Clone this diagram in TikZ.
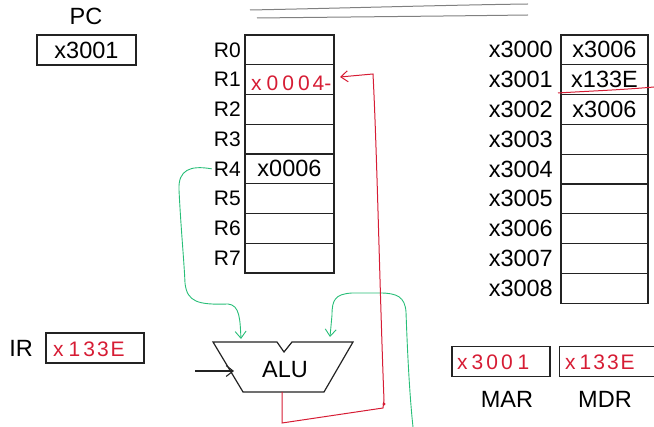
\documentclass[tikz,border=0pt]{standalone}
\usepackage{fontspec}
\setmainfont{Liberation Sans}
\usetikzlibrary{arrows.meta}
\definecolor{inkred}{RGB}{214,28,52}
\definecolor{inkgreen}{RGB}{40,190,120}
\definecolor{boxline}{RGB}{35,35,35}
\begin{document}
\begin{tikzpicture}[x=1pt,y=-1pt,
  big/.style={font=\fontsize{23.5}{25}\selectfont, inner sep=0pt},
  small/.style={font=\fontsize{21}{23}\selectfont, inner sep=0pt},
  hand/.style={font=\fontsize{21}{23}\selectfont, text=inkred, inner sep=0pt},
  regcell/.style={draw=boxline, line width=1.1pt, minimum width=89pt, minimum height=29.75pt, inner sep=0pt, font=\fontsize{23.5}{25}\selectfont},
  memcell/.style={draw=boxline, line width=1.1pt, minimum width=87pt, minimum height=29.8pt, inner sep=0pt, font=\fontsize{23.5}{25}\selectfont},
  valbox/.style={draw=boxline, line width=1.1pt, minimum width=98pt, minimum height=30pt, inner sep=0pt},
  greenink/.style={draw=inkgreen, line width=0.9pt},
  redink/.style={draw=inkred, line width=1pt},
  barb/.style={-{Straight Barb[length=7pt,width=11pt]}}
]
\useasboundingbox (0,0) rectangle (654,427);

% top gray strokes
\draw[gray, line width=1pt] (250,10) .. controls (350,8) and (450,5) .. (528,4);
\draw[gray, line width=1pt] (257,18) .. controls (350,17) and (450,16) .. (528,15);

% PC
\node[big] (pclabel) at (86,16) {PC};
\node[valbox, font=\fontsize{23.5}{25}\selectfont, minimum width=99pt] (pc) at (86.5,50) {x3001};

% register file
\foreach \i/\v in {0/,1/,2/,3/,4/x0006,5/,6/,7/}{
  \node[regcell] (r\i) at (289.5,{35+29.75*(\i+0.5)}) {\v};
  \node[small, anchor=east] (rl\i) at (241,{35+29.75*(\i+0.5)}) {R\i};
}
\node[hand, anchor=west] (r1val) at (251,83) {x\hspace{5pt}0\hspace{4pt}0\hspace{4pt}0\hspace{3pt}4-};

% memory
\foreach \i/\a/\v in {0/x3000/x3006,1/x3001/x133E,2/x3002/x3006,3/x3003/,4/x3004/,5/x3005/,6/x3006/,7/x3007/,8/x3008/}{
  \node[memcell] (m\i) at (604.5,{35+29.8*(\i+0.5)}) {\v};
  \node[big, anchor=east] (ml\i) at (553,{35+29.8*(\i+0.5)}) {\a};
}
\draw[redink] (558,93) .. controls (590,91) and (620,90) .. (654,87);

% IR
\node[big] (irlabel) at (21,348) {IR};
\node[valbox] (ir) at (95,348) {};
\node[hand, anchor=west] (irval) at (53,349) {x\hspace{5pt}1\hspace{3pt}3\hspace{2pt}3\hspace{2pt}E};

% MAR / MDR
\node[valbox] (mar) at (501,361.5) {};
\node[hand, anchor=west] (marval) at (457,362) {x\hspace{4pt}3\hspace{3pt}0\hspace{3pt}0\hspace{5pt}1};
\node[big] (marlabel) at (507,399) {MAR};
\node[draw=boxline, line width=1.1pt, minimum width=95pt, minimum height=30pt, inner sep=0pt] (mdr) at (607,361.5) {};
\node[hand, anchor=west] (mdrval) at (565,362) {x\hspace{4pt}1\hspace{2pt}3\hspace{2pt}3\hspace{2pt}E};
\node[big] (mdrlabel) at (605,399) {MDR};

% ALU
\draw[boxline, line width=1.2pt, line join=miter]
  (213,342) -- (277,342) -- (284,352) -- (292,342) -- (353,342) -- (324,392) -- (243,392) -- cycle;
\node[big] (alu) at (285,370) {ALU};
\coordinate (aluInA) at (241,339);
\coordinate (aluInB) at (330,337);
\coordinate (aluInC) at (234,371);
\coordinate (aluOut) at (282,392);
\coordinate (inStart) at (195,371);
\coordinate (greenStart) at (413,427);
\coordinate (redCorner) at (383,408);
\coordinate (r1arrow) at (340,77);

% black input arrow
\draw[boxline, line width=1.1pt, barb] (inStart) -- (aluInC);

% green paths
\draw[greenink, barb] ([xshift=-2pt]rl4.west) .. controls (190,165) and (178,170) .. (179,190)
  .. controls (181,230) and (184,260) .. (185,283)
  .. controls (187,302) and (198,305) .. (228,304)
  .. controls (240,305) and (240,320) .. (aluInA);
\draw[greenink, barb] (greenStart) .. controls (409,390) and (407,340) .. (406,312)
  .. controls (405,297) and (397,293) .. (380,293)
  -- (352,293) .. controls (335,294) and (332,300) .. (332,315)
  -- (aluInB);

% red path
\draw[redink, barb] (aluOut) -- (282,423) -- (redCorner) -- (384,400)
  .. controls (380,300) and (377,150) .. (373,74) -- (r1arrow);
\fill[inkred] (384,404) circle (1.6);
\end{tikzpicture}
\end{document}
